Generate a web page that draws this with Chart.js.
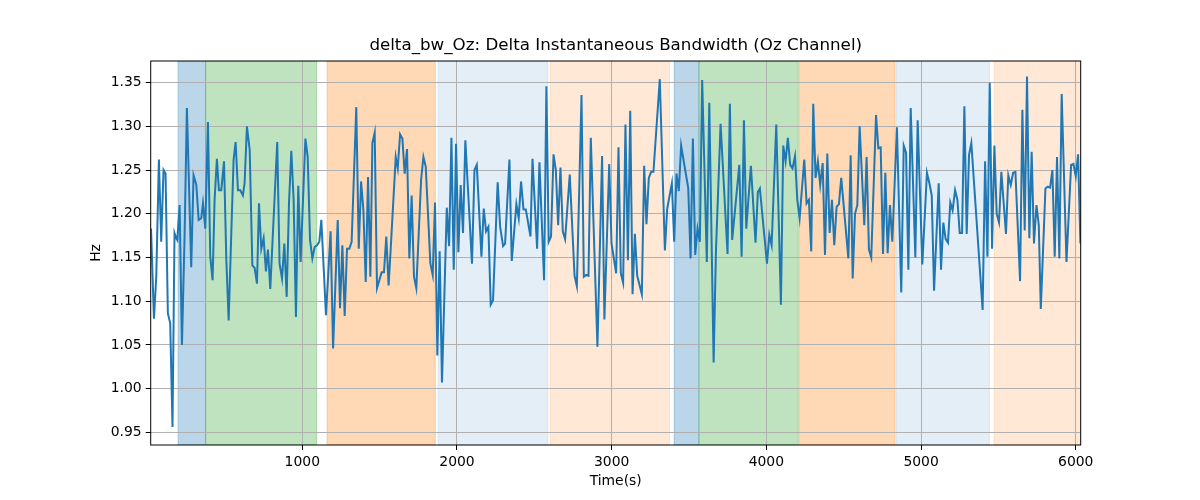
<!DOCTYPE html>
<html>
<head>
<meta charset="utf-8">
<script src="https://cdn.jsdelivr.net/npm/chart.js@4"></script>
<style>
  body{margin:0;background:#fff;}
  canvas{display:block;}
</style>
</head>
<body>
<canvas id="chart" width="1200" height="500"></canvas>
<script>
// data
const times = [
  22,41,56,73,88,103,116,131,146,161,174,185,192,207,222,239,254,282,297,315,330,347,358,373,390,405,420,433,448,461,476,494,509,524,541,556,569,584,599,616,627,642,660,677,692,707,720,735,750,765,778,
  793,838,853,869,884,899,914,929,944,959,974,989,1020,1035,1050,1065,1080,1095,1110,1123,1138,1153,1183,1199,1229,1244,1259,1274,1289,1304,1319,1349,1365,1380,1395,1410,1425,1440,1453,1468,1483,1498,1513,1528,
  1543,1558,1574,1604,1617,1632,1647,1662,1677,1692,1707,1722,1737,1768,1783,1798,1828,1843,1858,1873,1888,1903,1934,1949,1964,1979,1994,2009,2024,2039,2054,2097,2113,2128,2158,2173,2188,2203,2218,2233,2263,2279,
  2298,2311,2339,2354,2384,2399,2414,2430,2445,2475,2488,2518,2533,2563,2578,2593,2608,2624,2639,2654,2669,2684,2699,2729,2760,2775,2805,2820,2835,2850,2865,2908,2938,2953,2984,2999,3029,3044,
  3059,3074,3089,3105,3120,3135,3150,3165,3195,3210,3225,3240,3255,3270,3311,3344,3359,3389,3404,3419,3434,3449,3495,3510,3525,3540,3555,3570,3585,3615,3631,3659,3674,3704,3749,3764,3779,
  3825,3840,3855,3870,3900,3930,3945,3958,4004,4019,4034,4064,4094,4109,4124,4139,4154,4169,4185,4200,4215,4245,4260,4275,4290,4303,4318,4333,4348,4364,4379,4394,4409,4424,4439,4454,4469,4484,4530,4545,4558,
  4573,4588,4603,4633,4648,4663,4678,4709,4724,4739,4754,4769,4784,4799,4814,4844,4872,4888,4903,4918,4933,4963,4978,5008,5038,5054,5069,5084,5114,5129,5144,5159,5174,5189,5204,5220,5235,5250,5265,5280,5295,5310,
  5325,5398,5414,5429,5444,5459,5474,5489,5504,5519,5549,5564,5580,5595,5610,5640,5655,5670,5685,5700,5715,5730,5746,5761,5774,5804,5819,5834,5849,5864,5879,5894,5909,5940,5970,5985,6000,6015,6030
];
const values = [
  1.183,1.080,1.128,1.262,1.168,1.250,1.246,1.086,1.075,0.956,1.178,1.172,1.170,1.210,1.050,1.174,1.321,1.139,1.244,1.233,1.193,1.195,1.212,1.183,1.305,1.151,1.124,1.216,1.263,1.227,1.227,1.260,1.147,1.078,1.178,1.262,1.282,1.227,1.227,1.221,1.235,1.300,1.273,1.141,1.138,1.120,1.212,1.160,1.172,1.134,1.159,
  1.114,1.282,1.143,1.126,1.166,1.105,1.212,1.272,1.216,1.082,1.232,1.145,1.286,1.265,1.170,1.149,1.162,1.164,1.168,1.193,1.139,1.084,1.180,1.046,1.193,1.092,1.164,1.083,1.160,1.160,1.168,1.322,1.160,1.237,1.204,1.122,1.242,1.128,1.281,1.293,1.115,1.124,1.133,1.133,
  1.174,1.118,1.168,1.265,1.252,1.291,1.286,1.246,1.274,1.149,1.221,1.128,1.115,1.239,1.265,1.254,1.143,1.130,1.213,1.038,1.157,1.007,1.207,1.163,1.287,1.136,1.280,1.156,1.233,1.178,1.284,1.143,1.250,1.256,1.151,1.206,1.180,1.185,1.096,1.101,1.236,1.185,
  1.163,1.166,1.262,1.146,1.211,1.195,1.237,1.205,1.205,1.174,1.263,1.160,1.259,1.124,1.346,1.168,1.174,1.268,1.250,1.187,1.253,1.180,1.171,1.245,1.129,1.117,1.336,1.128,1.130,1.129,1.287,1.048,1.266,1.079,1.257,1.166,1.132,1.276,
  1.132,1.121,1.302,1.147,1.318,1.108,1.177,1.129,1.108,1.255,1.188,1.241,1.248,1.248,1.354,1.158,1.206,1.235,1.168,1.246,1.226,1.278,1.229,1.149,1.286,1.153,1.183,1.168,1.353,1.145,1.327,1.030,1.157,1.303,1.154,1.326,1.170,
  1.256,1.151,1.307,1.183,1.255,1.167,1.225,1.229,1.143,1.176,1.164,1.302,1.096,1.278,1.260,1.287,1.256,1.252,1.266,1.216,1.195,1.262,1.212,1.216,1.157,1.326,1.241,1.260,1.233,1.258,1.153,1.269,1.178,1.216,1.164,1.208,1.211,1.241,1.149,1.267,1.126,
  1.200,1.210,1.300,1.187,1.265,1.159,1.150,1.313,1.275,1.276,1.154,1.247,1.155,1.210,1.168,1.299,1.110,1.278,1.270,1.136,1.321,1.150,1.307,1.142,1.247,1.235,1.221,1.112,1.235,1.136,1.190,1.171,1.167,1.213,1.204,1.227,1.216,1.178,1.178,1.323,1.177,1.267,
  1.281,1.090,1.260,1.151,1.350,1.160,1.278,1.200,1.190,1.248,1.177,1.244,1.233,1.247,1.248,1.123,1.319,1.181,1.357,1.172,1.271,1.166,1.210,1.187,1.091,1.229,1.231,1.230,1.250,1.151,1.265,1.149,1.337,1.145,1.256,1.257,1.243,1.268,1.166
];
const xTicks = [1000, 2000, 3000, 4000, 5000, 6000];
const yTicks = [0.95, 1.00, 1.05, 1.10, 1.15, 1.20, 1.25, 1.30, 1.35];

// shaded segments (time from / to, kind)
const bandStart = [197, 375, 1160, 1878, 2602, 3404, 3564, 4213, 4840, 5472];
const bandEnd   = [375, 1093, 1860, 2587, 3374, 3564, 4206, 4832, 5442, 6040];
const bandKind  = ['blue','green','orange','paleblue','paleorange','blue','green','orange','paleblue','paleorange'];

const FONT = '"DejaVu Sans"';
const bandColor = {
  blue: 'rgba(31,119,180,0.3)',
  green: 'rgba(44,160,44,0.3)',
  orange: 'rgba(255,127,14,0.3)',
  paleblue: 'rgba(31,119,180,0.12)',
  paleorange: 'rgba(255,127,14,0.17)'
};

const bands = {
  id: 'bands',
  beforeDraw(chart){
    const {ctx, chartArea: a, scales: {x}} = chart;
    ctx.save();
    ctx.beginPath(); ctx.rect(a.left, a.top, a.right - a.left, a.bottom - a.top); ctx.clip();
    bandStart.forEach((s, i) => {
      const x0 = x.getPixelForValue(s), x1 = x.getPixelForValue(bandEnd[i]);
      ctx.fillStyle = bandColor[bandKind[i]];
      ctx.fillRect(x0, a.top, x1 - x0, a.bottom - a.top);
      ctx.strokeStyle = bandColor[bandKind[i]]; ctx.lineWidth = 1;
      ctx.strokeRect(x0, a.top, x1 - x0, a.bottom - a.top);
    });
    ctx.restore();
  }
};

const frame = {
  id: 'frame',
  afterDraw(chart){
    const {ctx, chartArea: a} = chart;
    ctx.save();
    ctx.strokeStyle = '#000'; ctx.lineWidth = 1;
    ctx.strokeRect(a.left, a.top, a.right - a.left, a.bottom - a.top);
    ctx.fillStyle = '#000';
    ctx.font = '16.7px ' + FONT;
    ctx.textAlign = 'center'; ctx.textBaseline = 'middle';
    ctx.fillText('delta_bw_Oz: Delta Instantaneous Bandwidth (Oz Channel)', (a.left + a.right) / 2, 46);
    ctx.restore();
  }
};

const tickFont = {family: FONT, size: 13.9};

new Chart(document.getElementById('chart'), {
  type: 'line',
  data: {
    datasets: [{
      data: times.map((t, i) => ({x: t, y: values[i]})),
      borderColor: '#1f77b4', borderWidth: 2, pointRadius: 0, tension: 0, fill: false
    }]
  },
  options: {
    responsive: false, animation: false, devicePixelRatio: 1,
    layout: {padding: {left: 88, right: 119.3, top: 61, bottom: 0}},
    plugins: {legend: {display: false}, tooltip: {enabled: false}},
    scales: {
      x: {
        type: 'linear', min: 20, max: 6032,
        afterBuildTicks: s => { s.ticks = xTicks.map(v => ({value: v})); },
        afterFit: s => { s.height = 55; },
        grid: {color: '#b0b0b0', lineWidth: 1, tickColor: '#000', tickLength: 5, tickWidth: 1},
        border: {display: false},
        ticks: {color: '#000', font: tickFont, padding: 4, maxRotation: 0, autoSkip: false, callback: v => String(v)},
        title: {display: true, text: 'Time(s)', color: '#000', font: tickFont, padding: {top: 0, bottom: 10.6}}
      },
      y: {
        type: 'linear', min: 0.9355, max: 1.3748,
        afterBuildTicks: s => { s.ticks = yTicks.map(v => ({value: v})); },
        afterFit: s => { s.width = 62.7; },
        grid: {color: '#b0b0b0', lineWidth: 1, tickColor: '#000', tickLength: 5, tickWidth: 1},
        border: {display: false},
        ticks: {color: '#000', font: tickFont, padding: 4, autoSkip: false, callback: v => v.toFixed(2)},
        title: {display: true, text: 'Hz', color: '#000', font: tickFont, padding: {top: 0, bottom: 0}}
      }
    }
  },
  plugins: [bands, frame]
});
</script>
</body>
</html>
